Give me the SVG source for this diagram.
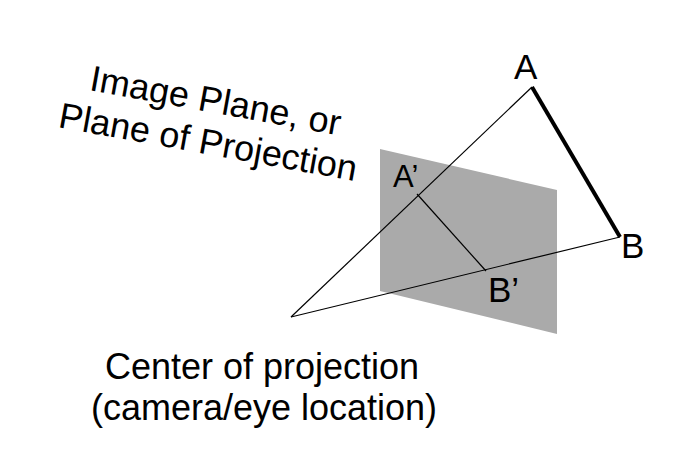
<svg xmlns="http://www.w3.org/2000/svg" width="688" height="464" viewBox="0 0 688 464">
<style>
text{font-family:"Liberation Sans",Arial,sans-serif;fill:#000}
.thin{stroke:#000;stroke-width:1.2;fill:none}
.thick{stroke:#000;stroke-width:4;fill:none;stroke-linecap:butt}
</style>
<rect width="688" height="464" fill="#fff"/>
<g id="plane">
<polygon points="380,149 557,190 557,334 380,291" fill="#aaaaaa"/>
</g>
<g id="plane-label" transform="translate(206,154) rotate(10.3)">
<text x="0" y="-42" font-size="36" text-anchor="middle">Image Plane, or</text>
<text x="0" y="0" font-size="36" text-anchor="middle">Plane of Projection</text>
</g>
<g id="connectors">
<line class="thin" x1="291" y1="317" x2="532" y2="87"/>
<line class="thin" x1="291" y1="317" x2="620" y2="237"/>
<line class="thin" x1="417" y1="194" x2="486" y2="271"/>
<line class="thick" x1="532" y1="87" x2="620" y2="237"/>
</g>
<g id="A"><text x="514" y="79" font-size="35">A</text></g>
<g id="B"><text x="621" y="258" font-size="35">B</text></g>
<g id="A-prime"><text x="393" y="187" font-size="31">A’</text></g>
<g id="B-prime"><text x="488" y="302" font-size="35">B’</text></g>
<g id="center-label">
<text x="262" y="379" font-size="36" text-anchor="middle">Center of projection</text>
<text x="264" y="420" font-size="36" text-anchor="middle">(camera/eye location)</text>
</g>
</svg>
